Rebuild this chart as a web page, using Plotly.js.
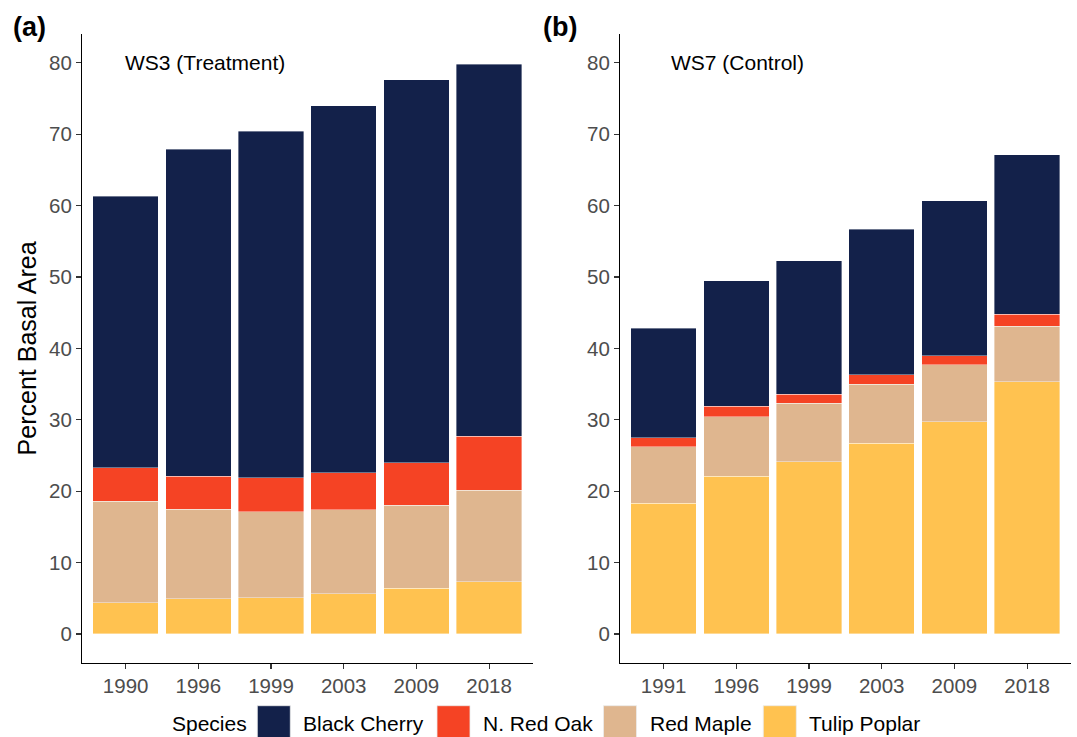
<!DOCTYPE html>
<html>
<head>
<meta charset="utf-8">
<script src="https://cdn.plot.ly/plotly-3.0.1.min.js"></script>
<style>
  html, body { margin: 0; padding: 0; background: #fff; }
  #chart { width: 1077px; height: 737px; }
</style>
</head>
<body>
<div id="chart"></div>
<script>
// Percent basal area by species, stacked per survey year
const species = ["Black Cherry", "N. Red Oak", "Red Maple", "Tulip Poplar"];
const speciesColors = ["#13214A", "#F54324", "#DFB68F", "#FFC250"];

// WS3 (Treatment)
const ws3Years = ["1990", "1996", "1999", "2003", "2009", "2018"];
const ws3BlackCherry = [38.0, 45.8, 48.5, 51.4, 53.6, 52.1];
const ws3RedOak      = [4.7, 4.6, 4.8, 5.2, 6.0, 7.6];
const ws3RedMaple    = [14.2, 12.6, 12.0, 11.8, 11.6, 12.8];
const ws3TulipPoplar = [4.4, 4.9, 5.1, 5.6, 6.4, 7.3];

// WS7 (Control)
const ws7Years = ["1991", "1996", "1999", "2003", "2009", "2018"];
const ws7BlackCherry = [15.3, 17.6, 18.7, 20.4, 21.7, 22.3];
const ws7RedOak      = [1.3, 1.5, 1.3, 1.3, 1.3, 1.7];
const ws7RedMaple    = [7.9, 8.3, 8.2, 8.3, 8.0, 7.8];
const ws7TulipPoplar = [18.3, 22.1, 24.1, 26.7, 29.7, 35.3];

const yTicks = [0, 10, 20, 30, 40, 50, 60, 70, 80];

const W = 1077, H = 737;
const px = v => v / W;          // horizontal pixel -> paper
const py = v => 1 - v / H;      // vertical pixel -> paper

const FONT = "Liberation Sans, Arial, sans-serif";

function stackTraces(years, series, xa, ya) {
  // bottom of the stack first: Tulip Poplar, Red Maple, N. Red Oak, Black Cherry
  const order = [3, 2, 1, 0];
  return order.map(i => ({
    type: "bar",
    name: species[i],
    x: years,
    y: series[i],
    xaxis: xa,
    yaxis: ya,
    marker: { color: speciesColors[i], line: { color: "rgba(255,255,255,0.55)", width: 0.7 } },
    showlegend: false,
    hoverinfo: "x+y+name"
  }));
}

const traces = [
  ...stackTraces(ws3Years, [ws3BlackCherry, ws3RedOak, ws3RedMaple, ws3TulipPoplar], "x", "y"),
  ...stackTraces(ws7Years, [ws7BlackCherry, ws7RedOak, ws7RedMaple, ws7TulipPoplar], "x2", "y2")
];

const tickFont = { family: FONT, size: 20.5, color: "#4D4D4D" };

function xAxis(domain, anchor) {
  return {
    domain: domain, anchor: anchor, type: "category",
    range: [-0.6, 5.6],
    showline: true, linecolor: "#000", linewidth: 1.1,
    ticks: "outside", ticklen: 5, tickwidth: 1.1, tickcolor: "#333",
    tickfont: tickFont, showgrid: false, zeroline: false, fixedrange: true
  };
}
function yAxis(anchor) {
  return {
    domain: [py(662.5), py(34.3)], anchor: anchor,
    range: [-4, 84], tickvals: yTicks, ticktext: yTicks.map(String),
    showline: true, linecolor: "#000", linewidth: 1.1,
    ticks: "outside", ticklen: 5, tickwidth: 1.1, tickcolor: "#333",
    tickfont: tickFont, showgrid: false, zeroline: false, fixedrange: true
  };
}

// legend drawn as square keys with labels along the bottom
const keyLeft = [257.3, 437, 603.5, 763.3];
const keySize = 33;
const keyTop = 705.7;
const shapes = species.map((s, i) => ({
  type: "rect", xref: "paper", yref: "paper",
  x0: px(keyLeft[i]), x1: px(keyLeft[i] + keySize),
  y0: py(keyTop + keySize), y1: py(keyTop),
  fillcolor: speciesColors[i], line: { color: "rgba(235,235,235,1)", width: 0.8 }
}));

const annotations = [
  { text: "Species", x: px(170), y: py(723), xanchor: "left", yanchor: "middle" },
  ...species.map((s, i) => ({
    text: s, x: px(keyLeft[i] + keySize + 11), y: py(723), xanchor: "left", yanchor: "middle"
  }))
].map(a => Object.assign({ xref: "paper", yref: "paper", showarrow: false,
  font: { family: FONT, size: 21, color: "#000" } }, a));

annotations.push(
  { text: "WS3 (Treatment)", xref: "paper", yref: "y", x: px(205), y: 80,
    xanchor: "center", yanchor: "middle", showarrow: false,
    font: { family: FONT, size: 21, color: "#000" } },
  { text: "WS7 (Control)", xref: "paper", yref: "y2", x: px(737.5), y: 80,
    xanchor: "center", yanchor: "middle", showarrow: false,
    font: { family: FONT, size: 21, color: "#000" } },
  { text: "<b>(a)</b>", xref: "paper", yref: "paper", x: px(29.5), y: py(27),
    xanchor: "center", yanchor: "middle", showarrow: false,
    font: { family: FONT, size: 27, color: "#000" } },
  { text: "<b>(b)</b>", xref: "paper", yref: "paper", x: px(560), y: py(27),
    xanchor: "center", yanchor: "middle", showarrow: false,
    font: { family: FONT, size: 27, color: "#000" } },
  { text: "Percent Basal Area", xref: "paper", yref: "paper", x: px(27), y: py(348.4),
    xanchor: "center", yanchor: "middle", textangle: -90, showarrow: false,
    font: { family: FONT, size: 25, color: "#000" } }
);

const layout = {
  width: W, height: H,
  margin: { l: 0, r: 0, t: 0, b: 0, pad: 0 },
  paper_bgcolor: "#fff", plot_bgcolor: "#fff",
  barmode: "stack", bargap: 0.1,
  font: { family: FONT },
  showlegend: false,
  xaxis: xAxis([px(82), px(532.7)], "y"),
  yaxis: yAxis("x"),
  xaxis2: xAxis([px(620), px(1070.7)], "y2"),
  yaxis2: yAxis("x2"),
  shapes: shapes,
  annotations: annotations
};

Plotly.newPlot("chart", traces, layout, { displayModeBar: false, staticPlot: true });
</script>
</body>
</html>
